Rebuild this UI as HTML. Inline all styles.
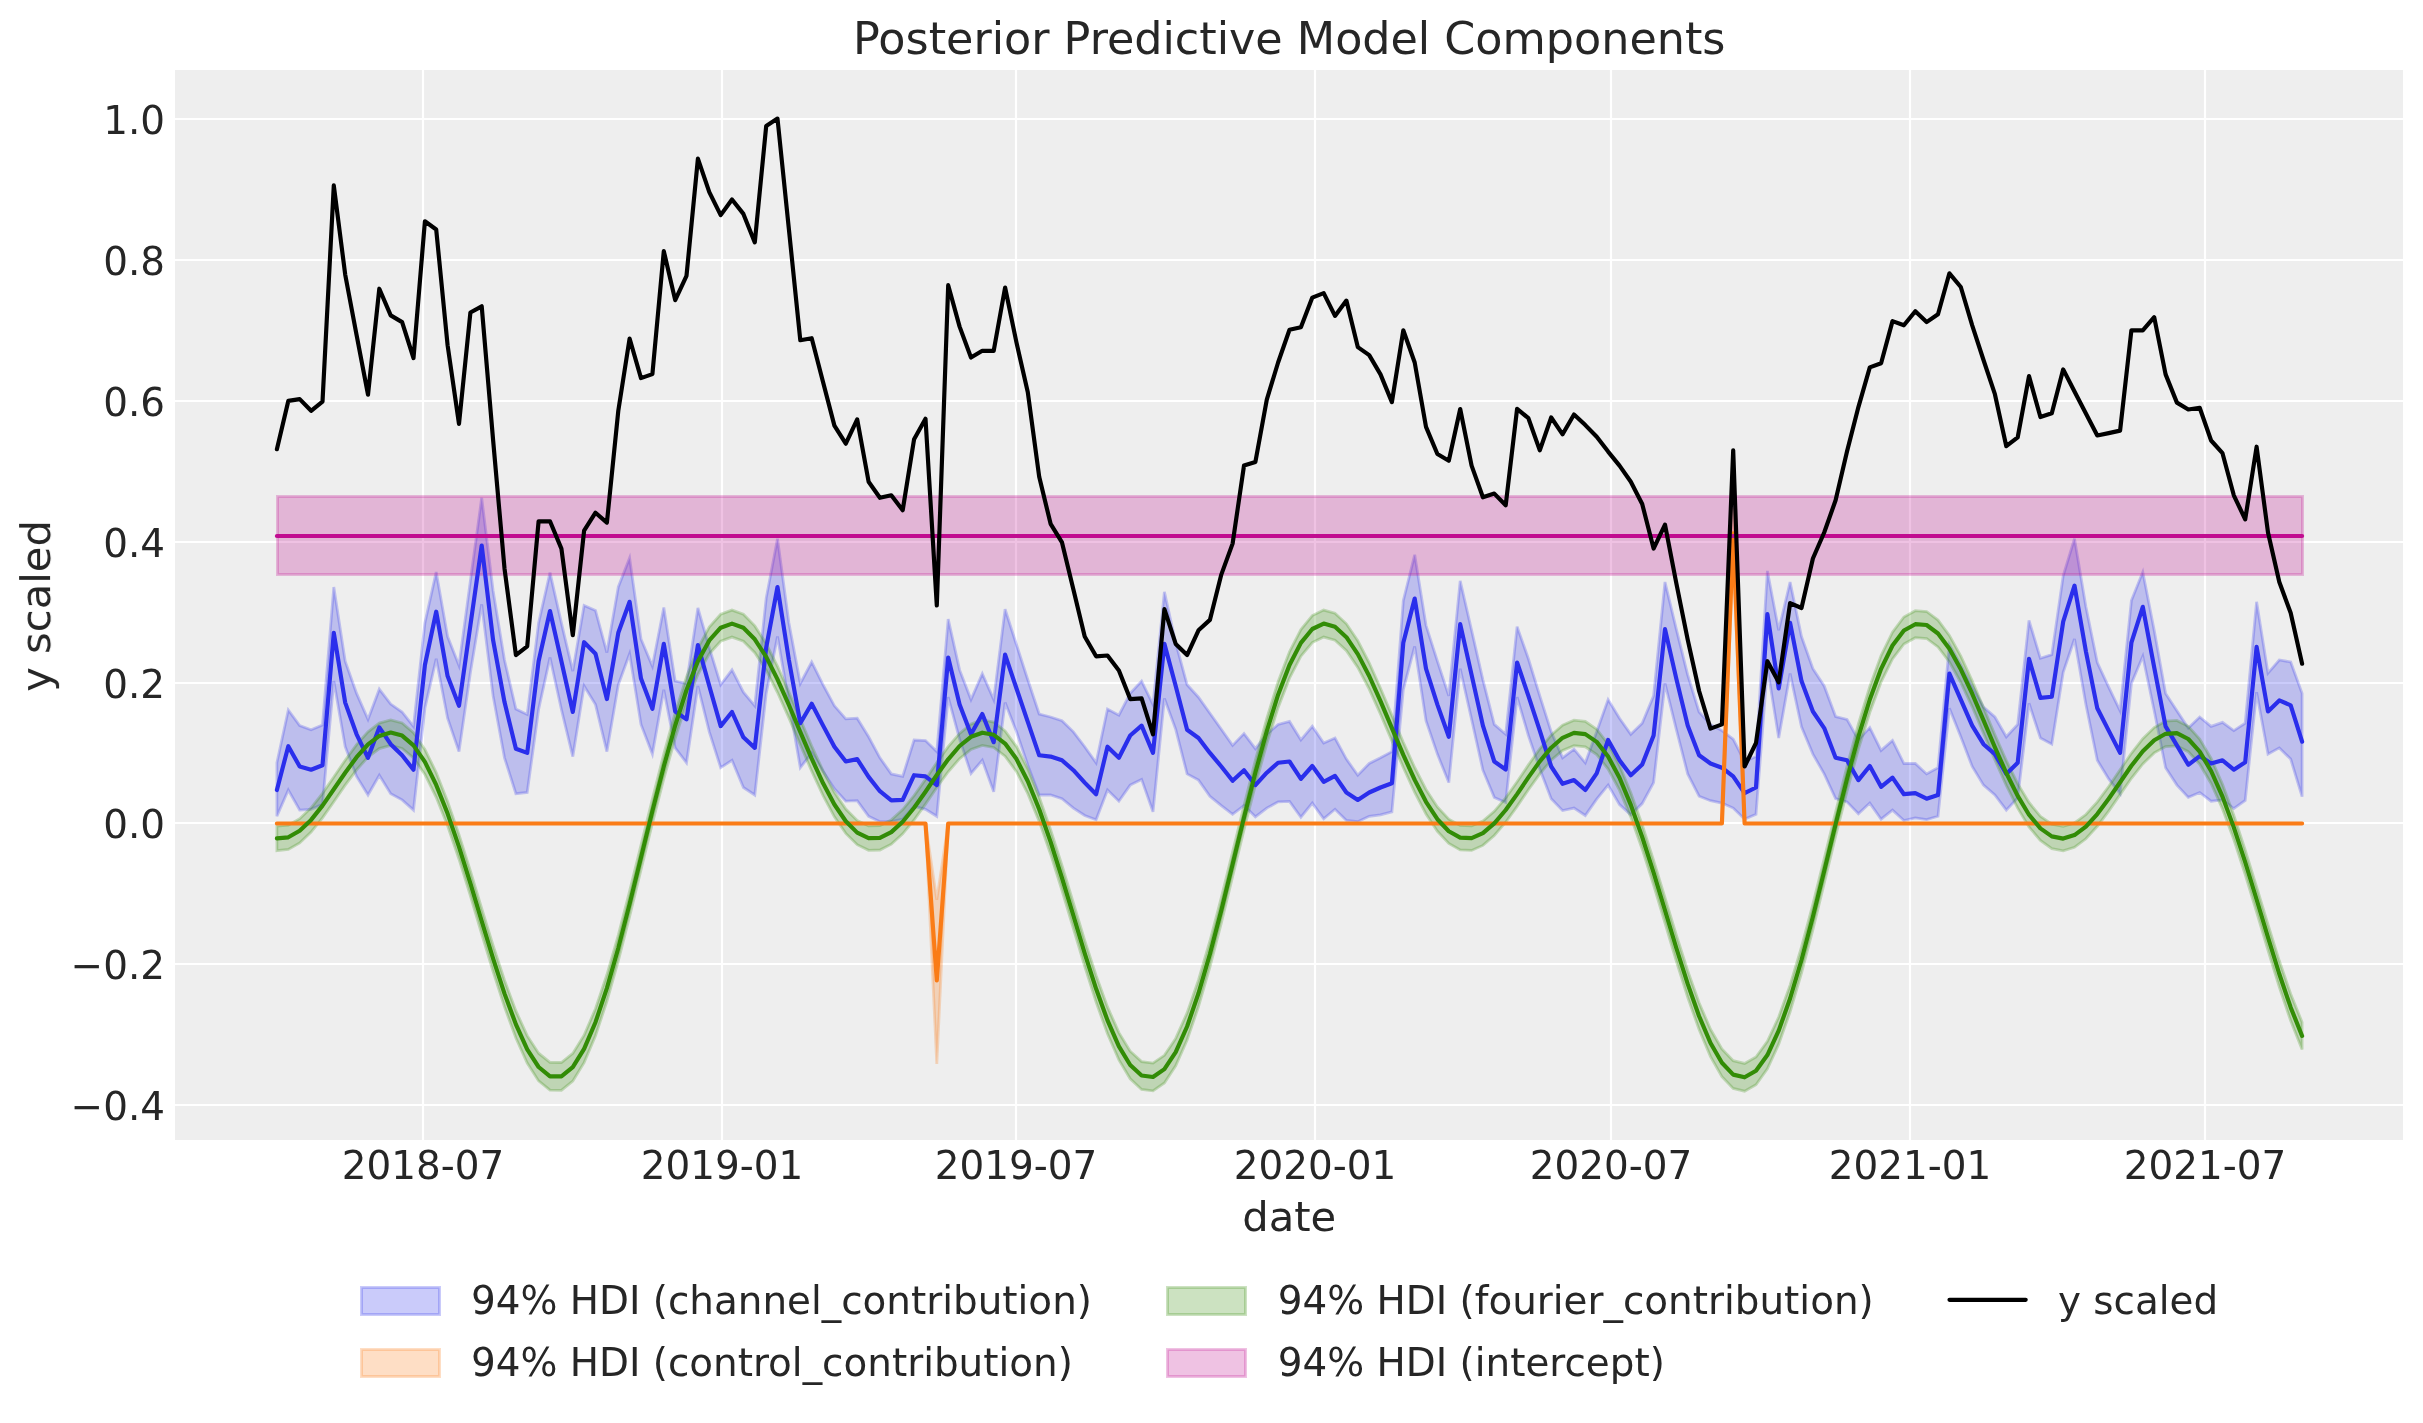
<!DOCTYPE html>
<html lang="en"><head><meta charset="utf-8"><title>Posterior Predictive Model Components</title>
<style>html,body{margin:0;padding:0;background:#fff}body{width:2423px;height:1423px;overflow:hidden}svg{display:block}</style>
</head><body>
<svg width="2423" height="1423" viewBox="0 0 2423 1423">
<rect x="0" y="0" width="2423" height="1423" fill="#ffffff"/>
<rect x="175.0" y="70.0" width="2228.0" height="1070.0" fill="#eeeeee"/>
<defs><clipPath id="c"><rect x="175.0" y="70.0" width="2228.0" height="1070.0"/></clipPath></defs>
<g stroke="#ffffff" stroke-width="2.2" clip-path="url(#c)">
<line x1="423" y1="70.0" x2="423" y2="1140.0"/>
<line x1="722" y1="70.0" x2="722" y2="1140.0"/>
<line x1="1016" y1="70.0" x2="1016" y2="1140.0"/>
<line x1="1315" y1="70.0" x2="1315" y2="1140.0"/>
<line x1="1611" y1="70.0" x2="1611" y2="1140.0"/>
<line x1="1910" y1="70.0" x2="1910" y2="1140.0"/>
<line x1="2205" y1="70.0" x2="2205" y2="1140.0"/>
<line x1="175.0" y1="119" x2="2403.0" y2="119"/>
<line x1="175.0" y1="260" x2="2403.0" y2="260"/>
<line x1="175.0" y1="401" x2="2403.0" y2="401"/>
<line x1="175.0" y1="542" x2="2403.0" y2="542"/>
<line x1="175.0" y1="683" x2="2403.0" y2="683"/>
<line x1="175.0" y1="823" x2="2403.0" y2="823"/>
<line x1="175.0" y1="964" x2="2403.0" y2="964"/>
<line x1="175.0" y1="1105" x2="2403.0" y2="1105"/>
</g>
<g clip-path="url(#c)" stroke-linejoin="miter" stroke-width="2.78">
<polygon points="276.9,762.8 288.3,710.0 299.7,725.6 311.1,729.8 322.5,725.1 333.8,587.0 345.2,661.2 356.6,693.4 368.0,719.4 379.3,689.2 390.7,704.1 402.1,712.0 413.5,726.4 424.9,622.9 436.2,572.1 447.6,636.5 459.0,665.5 470.4,580.8 481.7,497.8 493.1,590.7 504.5,660.0 515.9,709.0 527.2,714.5 538.6,622.9 550.0,572.6 561.4,622.9 572.8,671.1 584.1,605.5 595.5,610.5 606.9,652.6 618.3,587.0 629.6,558.0 641.0,639.0 652.4,666.2 663.8,607.5 675.2,681.1 686.5,683.5 697.9,608.0 709.3,647.6 720.7,684.8 732.0,669.9 743.4,692.2 754.8,705.8 766.2,598.1 777.5,538.7 788.9,622.9 800.3,683.5 811.7,662.0 823.1,684.8 834.4,705.8 845.8,718.9 857.2,718.2 868.6,736.8 879.9,757.8 891.3,773.9 902.7,776.4 914.1,740.0 925.5,740.5 936.8,751.6 948.2,619.1 959.6,669.9 971.0,699.6 982.3,673.6 993.7,699.6 1005.1,609.2 1016.5,644.7 1027.8,679.8 1039.2,714.0 1050.6,717.0 1062.0,720.7 1073.4,731.8 1084.7,746.7 1096.1,762.8 1107.5,709.0 1118.9,715.2 1130.2,693.4 1141.6,681.1 1153.0,704.6 1164.4,591.9 1175.7,642.7 1187.1,684.8 1198.5,697.2 1209.9,713.2 1221.3,729.3 1232.6,745.4 1244.0,733.6 1255.4,748.7 1266.8,734.3 1278.1,724.4 1289.5,721.4 1300.9,740.0 1312.3,726.4 1323.7,743.0 1335.0,738.0 1346.4,759.1 1357.8,775.2 1369.2,763.5 1380.5,757.8 1391.9,751.6 1403.3,600.6 1414.7,554.8 1426.0,625.3 1437.4,661.2 1448.8,695.9 1460.2,580.8 1471.6,630.3 1482.9,679.8 1494.3,724.4 1505.7,734.3 1517.1,626.6 1528.4,658.8 1539.8,695.9 1551.2,731.8 1562.6,757.8 1574.0,749.2 1585.3,762.8 1596.7,731.8 1608.1,699.6 1619.5,718.2 1630.8,734.3 1642.2,723.2 1653.6,695.9 1665.0,582.0 1676.3,629.1 1687.7,674.9 1699.1,712.0 1710.5,724.4 1721.9,730.6 1733.2,739.2 1744.6,761.5 1756.0,756.6 1767.4,570.9 1778.7,630.3 1790.1,582.0 1801.5,636.5 1812.9,668.7 1824.2,686.0 1835.6,716.5 1847.0,719.4 1858.4,740.0 1869.8,727.6 1881.1,750.4 1892.5,740.5 1903.9,763.5 1915.3,763.5 1926.6,773.9 1938.0,767.7 1949.4,644.7 1960.8,665.0 1972.2,686.0 1983.5,707.1 1994.9,717.0 2006.3,736.8 2017.7,724.4 2029.0,620.4 2040.4,658.3 2051.8,654.6 2063.2,575.8 2074.5,538.7 2085.9,606.8 2097.3,662.5 2108.7,687.2 2120.1,710.8 2131.4,600.6 2142.8,572.1 2154.2,630.3 2165.6,693.4 2176.9,710.8 2188.3,728.1 2199.7,717.0 2211.1,726.4 2222.5,722.4 2233.8,730.6 2245.2,723.2 2256.6,601.8 2268.0,673.1 2279.3,660.0 2290.7,662.0 2302.1,693.4 2302.1,796.7 2290.7,759.1 2279.3,747.9 2268.0,754.1 2256.6,692.2 2245.2,800.4 2233.8,808.6 2222.5,799.9 2211.1,801.2 2199.7,792.5 2188.3,797.4 2176.9,785.1 2165.6,767.7 2154.2,710.8 2142.8,656.3 2131.4,683.5 2120.1,793.7 2108.7,778.9 2097.3,760.3 2085.9,704.6 2074.5,639.0 2063.2,672.4 2051.8,744.2 2040.4,738.0 2029.0,703.3 2017.7,797.9 2006.3,810.1 1994.9,795.0 1983.5,785.1 1972.2,766.5 1960.8,736.8 1949.4,708.3 1938.0,816.3 1926.6,819.7 1915.3,818.0 1903.9,820.5 1892.5,810.1 1881.1,819.2 1869.8,803.1 1858.4,813.8 1847.0,801.9 1835.6,798.7 1824.2,773.9 1812.9,754.1 1801.5,726.9 1790.1,673.6 1778.7,738.0 1767.4,667.4 1756.0,814.3 1744.6,819.2 1733.2,808.1 1721.9,803.1 1710.5,800.7 1699.1,796.2 1687.7,773.9 1676.3,729.3 1665.0,683.5 1653.6,782.6 1642.2,803.6 1630.8,814.8 1619.5,804.6 1608.1,785.1 1596.7,799.2 1585.3,815.5 1574.0,808.1 1562.6,810.6 1551.2,798.7 1539.8,769.0 1528.4,735.5 1517.1,697.2 1505.7,802.4 1494.3,797.4 1482.9,770.2 1471.6,719.4 1460.2,668.7 1448.8,782.6 1437.4,754.1 1426.0,720.7 1414.7,646.4 1403.3,689.7 1391.9,811.8 1380.5,814.8 1369.2,816.3 1357.8,821.7 1346.4,820.5 1335.0,809.3 1323.7,818.7 1312.3,803.1 1300.9,817.2 1289.5,801.4 1278.1,801.9 1266.8,808.1 1255.4,816.8 1244.0,805.6 1232.6,814.3 1221.3,805.6 1209.9,796.2 1198.5,780.1 1187.1,773.9 1175.7,729.3 1164.4,698.4 1153.0,811.8 1141.6,779.4 1130.2,785.1 1118.9,801.2 1107.5,790.0 1096.1,819.7 1084.7,815.5 1073.4,808.1 1062.0,798.7 1050.6,795.0 1039.2,795.0 1027.8,765.2 1016.5,731.8 1005.1,702.6 993.7,791.7 982.3,760.3 971.0,773.4 959.6,739.2 948.2,697.2 936.8,816.3 925.5,809.3 914.1,806.4 902.7,819.2 891.3,821.7 879.9,821.7 868.6,816.3 857.2,800.7 845.8,801.2 834.4,788.8 823.1,771.4 811.7,752.9 800.3,767.7 788.9,702.1 777.5,636.5 766.2,693.4 754.8,795.0 743.4,787.5 732.0,760.3 720.7,767.7 709.3,731.8 697.9,686.0 686.5,762.8 675.2,747.9 663.8,689.7 652.4,754.1 641.0,724.4 629.6,653.8 618.3,684.8 606.9,751.6 595.5,704.6 584.1,686.0 572.8,756.6 561.4,709.5 550.0,657.5 538.6,709.5 527.2,792.5 515.9,793.7 504.5,757.8 493.1,695.9 481.7,604.3 470.4,672.4 459.0,751.6 447.6,718.2 436.2,658.8 424.9,708.3 413.5,810.1 402.1,799.9 390.7,793.7 379.3,775.2 368.0,795.0 356.6,776.4 345.2,746.7 333.8,681.1 322.5,804.4 311.1,809.3 299.7,810.1 288.3,790.0 276.9,816.3" fill="#2a2eec" fill-opacity="0.25" stroke="#2a2eec" stroke-opacity="0.25"/>
<polygon points="276.9,823.5 288.3,823.5 299.7,823.5 311.1,823.5 322.5,823.5 333.8,823.5 345.2,823.5 356.6,823.5 368.0,823.5 379.3,823.5 390.7,823.5 402.1,823.5 413.5,823.5 424.9,823.5 436.2,823.5 447.6,823.5 459.0,823.5 470.4,823.5 481.7,823.5 493.1,823.5 504.5,823.5 515.9,823.5 527.2,823.5 538.6,823.5 550.0,823.5 561.4,823.5 572.8,823.5 584.1,823.5 595.5,823.5 606.9,823.5 618.3,823.5 629.6,823.5 641.0,823.5 652.4,823.5 663.8,823.5 675.2,823.5 686.5,823.5 697.9,823.5 709.3,823.5 720.7,823.5 732.0,823.5 743.4,823.5 754.8,823.5 766.2,823.5 777.5,823.5 788.9,823.5 800.3,823.5 811.7,823.5 823.1,823.5 834.4,823.5 845.8,823.5 857.2,823.5 868.6,823.5 879.9,823.5 891.3,823.5 902.7,823.5 914.1,823.5 925.5,823.5 936.8,899.8 948.2,823.5 959.6,823.5 971.0,823.5 982.3,823.5 993.7,823.5 1005.1,823.5 1016.5,823.5 1027.8,823.5 1039.2,823.5 1050.6,823.5 1062.0,823.5 1073.4,823.5 1084.7,823.5 1096.1,823.5 1107.5,823.5 1118.9,823.5 1130.2,823.5 1141.6,823.5 1153.0,823.5 1164.4,823.5 1175.7,823.5 1187.1,823.5 1198.5,823.5 1209.9,823.5 1221.3,823.5 1232.6,823.5 1244.0,823.5 1255.4,823.5 1266.8,823.5 1278.1,823.5 1289.5,823.5 1300.9,823.5 1312.3,823.5 1323.7,823.5 1335.0,823.5 1346.4,823.5 1357.8,823.5 1369.2,823.5 1380.5,823.5 1391.9,823.5 1403.3,823.5 1414.7,823.5 1426.0,823.5 1437.4,823.5 1448.8,823.5 1460.2,823.5 1471.6,823.5 1482.9,823.5 1494.3,823.5 1505.7,823.5 1517.1,823.5 1528.4,823.5 1539.8,823.5 1551.2,823.5 1562.6,823.5 1574.0,823.5 1585.3,823.5 1596.7,823.5 1608.1,823.5 1619.5,823.5 1630.8,823.5 1642.2,823.5 1653.6,823.5 1665.0,823.5 1676.3,823.5 1687.7,823.5 1699.1,823.5 1710.5,823.5 1721.9,823.5 1733.2,508.0 1744.6,823.5 1756.0,823.5 1767.4,823.5 1778.7,823.5 1790.1,823.5 1801.5,823.5 1812.9,823.5 1824.2,823.5 1835.6,823.5 1847.0,823.5 1858.4,823.5 1869.8,823.5 1881.1,823.5 1892.5,823.5 1903.9,823.5 1915.3,823.5 1926.6,823.5 1938.0,823.5 1949.4,823.5 1960.8,823.5 1972.2,823.5 1983.5,823.5 1994.9,823.5 2006.3,823.5 2017.7,823.5 2029.0,823.5 2040.4,823.5 2051.8,823.5 2063.2,823.5 2074.5,823.5 2085.9,823.5 2097.3,823.5 2108.7,823.5 2120.1,823.5 2131.4,823.5 2142.8,823.5 2154.2,823.5 2165.6,823.5 2176.9,823.5 2188.3,823.5 2199.7,823.5 2211.1,823.5 2222.5,823.5 2233.8,823.5 2245.2,823.5 2256.6,823.5 2268.0,823.5 2279.3,823.5 2290.7,823.5 2302.1,823.5 2302.1,823.5 2290.7,823.5 2279.3,823.5 2268.0,823.5 2256.6,823.5 2245.2,823.5 2233.8,823.5 2222.5,823.5 2211.1,823.5 2199.7,823.5 2188.3,823.5 2176.9,823.5 2165.6,823.5 2154.2,823.5 2142.8,823.5 2131.4,823.5 2120.1,823.5 2108.7,823.5 2097.3,823.5 2085.9,823.5 2074.5,823.5 2063.2,823.5 2051.8,823.5 2040.4,823.5 2029.0,823.5 2017.7,823.5 2006.3,823.5 1994.9,823.5 1983.5,823.5 1972.2,823.5 1960.8,823.5 1949.4,823.5 1938.0,823.5 1926.6,823.5 1915.3,823.5 1903.9,823.5 1892.5,823.5 1881.1,823.5 1869.8,823.5 1858.4,823.5 1847.0,823.5 1835.6,823.5 1824.2,823.5 1812.9,823.5 1801.5,823.5 1790.1,823.5 1778.7,823.5 1767.4,823.5 1756.0,823.5 1744.6,823.5 1733.2,561.0 1721.9,823.5 1710.5,823.5 1699.1,823.5 1687.7,823.5 1676.3,823.5 1665.0,823.5 1653.6,823.5 1642.2,823.5 1630.8,823.5 1619.5,823.5 1608.1,823.5 1596.7,823.5 1585.3,823.5 1574.0,823.5 1562.6,823.5 1551.2,823.5 1539.8,823.5 1528.4,823.5 1517.1,823.5 1505.7,823.5 1494.3,823.5 1482.9,823.5 1471.6,823.5 1460.2,823.5 1448.8,823.5 1437.4,823.5 1426.0,823.5 1414.7,823.5 1403.3,823.5 1391.9,823.5 1380.5,823.5 1369.2,823.5 1357.8,823.5 1346.4,823.5 1335.0,823.5 1323.7,823.5 1312.3,823.5 1300.9,823.5 1289.5,823.5 1278.1,823.5 1266.8,823.5 1255.4,823.5 1244.0,823.5 1232.6,823.5 1221.3,823.5 1209.9,823.5 1198.5,823.5 1187.1,823.5 1175.7,823.5 1164.4,823.5 1153.0,823.5 1141.6,823.5 1130.2,823.5 1118.9,823.5 1107.5,823.5 1096.1,823.5 1084.7,823.5 1073.4,823.5 1062.0,823.5 1050.6,823.5 1039.2,823.5 1027.8,823.5 1016.5,823.5 1005.1,823.5 993.7,823.5 982.3,823.5 971.0,823.5 959.6,823.5 948.2,823.5 936.8,1064.0 925.5,823.5 914.1,823.5 902.7,823.5 891.3,823.5 879.9,823.5 868.6,823.5 857.2,823.5 845.8,823.5 834.4,823.5 823.1,823.5 811.7,823.5 800.3,823.5 788.9,823.5 777.5,823.5 766.2,823.5 754.8,823.5 743.4,823.5 732.0,823.5 720.7,823.5 709.3,823.5 697.9,823.5 686.5,823.5 675.2,823.5 663.8,823.5 652.4,823.5 641.0,823.5 629.6,823.5 618.3,823.5 606.9,823.5 595.5,823.5 584.1,823.5 572.8,823.5 561.4,823.5 550.0,823.5 538.6,823.5 527.2,823.5 515.9,823.5 504.5,823.5 493.1,823.5 481.7,823.5 470.4,823.5 459.0,823.5 447.6,823.5 436.2,823.5 424.9,823.5 413.5,823.5 402.1,823.5 390.7,823.5 379.3,823.5 368.0,823.5 356.6,823.5 345.2,823.5 333.8,823.5 322.5,823.5 311.1,823.5 299.7,823.5 288.3,823.5 276.9,823.5" fill="#fa7c17" fill-opacity="0.25" stroke="#fa7c17" stroke-opacity="0.25"/>
<polygon points="276.9,826.2 288.3,825.1 299.7,818.7 311.1,807.8 322.5,793.4 333.8,777.0 345.2,760.2 356.6,744.6 368.0,731.8 379.3,723.1 390.7,719.9 402.1,722.9 413.5,732.7 424.9,749.4 436.2,772.5 447.6,801.4 459.0,834.6 470.4,870.8 481.7,908.4 493.1,945.5 504.5,980.3 515.9,1010.9 527.2,1035.7 538.6,1053.2 550.0,1062.4 561.4,1062.5 572.8,1053.4 584.1,1035.2 595.5,1008.7 606.9,974.8 618.3,935.1 629.6,891.2 641.0,845.2 652.4,798.9 663.8,753.9 675.2,712.7 686.5,677.0 697.9,648.1 709.3,627.0 720.7,614.3 732.0,610.1 743.4,614.3 754.8,625.9 766.2,643.7 777.5,666.3 788.9,692.0 800.3,719.2 811.7,746.0 823.1,770.9 834.4,792.3 845.8,809.1 857.2,820.4 868.6,825.9 879.9,825.6 891.3,819.9 902.7,809.6 914.1,795.6 925.5,779.4 936.8,762.6 948.2,746.7 959.6,733.4 971.0,724.1 982.3,720.0 993.7,722.1 1005.1,730.9 1016.5,746.6 1027.8,768.8 1039.2,797.0 1050.6,829.7 1062.0,865.5 1073.4,903.0 1084.7,940.3 1096.1,975.5 1107.5,1006.9 1118.9,1032.6 1130.2,1051.2 1141.6,1061.6 1153.0,1063.1 1164.4,1055.3 1175.7,1038.4 1187.1,1012.9 1198.5,980.0 1209.9,941.0 1221.3,897.7 1232.6,851.9 1244.0,805.5 1255.4,760.1 1266.8,718.3 1278.1,681.7 1289.5,651.7 1300.9,629.5 1312.3,615.6 1323.7,610.1 1335.0,613.2 1346.4,623.8 1357.8,640.8 1369.2,662.8 1380.5,688.2 1391.9,715.3 1403.3,742.3 1414.7,767.5 1426.0,789.5 1437.4,807.0 1448.8,819.1 1460.2,825.4 1471.6,825.9 1482.9,821.0 1494.3,811.3 1505.7,797.8 1517.1,781.8 1528.4,764.9 1539.8,748.8 1551.2,735.1 1562.6,725.1 1574.0,720.2 1585.3,721.4 1596.7,729.2 1608.1,743.9 1619.5,765.3 1630.8,792.7 1642.2,824.8 1653.6,860.3 1665.0,897.6 1676.3,935.0 1687.7,970.7 1699.1,1002.7 1710.5,1029.3 1721.9,1049.0 1733.2,1060.7 1744.6,1063.4 1756.0,1057.0 1767.4,1041.3 1778.7,1017.0 1790.1,985.1 1801.5,946.9 1812.9,904.1 1824.2,858.5 1835.6,812.1 1847.0,766.4 1858.4,724.0 1869.8,686.5 1881.1,655.6 1892.5,632.2 1903.9,617.0 1915.3,610.7 1926.6,611.5 1938.0,620.1 1949.4,635.4 1960.8,656.1 1972.2,680.7 1983.5,707.5 1994.9,734.7 2006.3,760.6 2017.7,783.6 2029.0,802.5 2040.4,816.3 2051.8,824.2 2063.2,826.4 2074.5,822.9 2085.9,814.5 2097.3,801.9 2108.7,786.5 2120.1,769.8 2131.4,753.3 2142.8,738.7 2154.2,727.5 2165.6,721.0 2176.9,720.4 2188.3,726.3 2199.7,739.0 2211.1,758.5 2222.5,784.3 2233.8,815.3 2245.2,849.9 2256.6,886.8 2268.0,924.4 2279.3,960.8 2290.7,994.0 2302.1,1022.3 2302.1,1049.5 2290.7,1020.8 2279.3,987.1 2268.0,950.3 2256.6,912.1 2245.2,874.6 2233.8,839.6 2222.5,808.9 2211.1,783.5 2199.7,764.2 2188.3,751.7 2176.9,745.9 2165.6,746.5 2154.2,752.9 2142.8,763.9 2131.4,778.3 2120.1,794.6 2108.7,811.1 2097.3,826.3 2085.9,838.8 2074.5,847.3 2063.2,850.8 2051.8,848.6 2040.4,840.5 2029.0,826.9 2017.7,808.2 2006.3,785.5 1994.9,760.0 1983.5,733.2 1972.2,706.8 1960.8,682.5 1949.4,662.0 1938.0,646.9 1926.6,638.5 1915.3,637.7 1903.9,644.0 1892.5,658.9 1881.1,682.0 1869.8,712.5 1858.4,749.4 1847.0,791.3 1835.6,836.4 1824.2,883.4 1812.9,929.6 1801.5,973.1 1790.1,1011.8 1778.7,1044.2 1767.4,1068.8 1756.0,1084.7 1744.6,1091.2 1733.2,1088.4 1721.9,1076.6 1710.5,1056.6 1699.1,1029.6 1687.7,997.2 1676.3,961.0 1665.0,923.0 1653.6,885.2 1642.2,849.2 1630.8,817.1 1619.5,790.1 1608.1,769.1 1596.7,754.6 1585.3,746.8 1574.0,745.7 1562.6,750.5 1551.2,760.3 1539.8,773.9 1528.4,789.8 1517.1,806.4 1505.7,822.2 1494.3,835.5 1482.9,845.4 1471.6,850.4 1460.2,849.9 1448.8,843.5 1437.4,831.3 1426.0,814.0 1414.7,792.3 1403.3,767.5 1391.9,740.9 1380.5,714.2 1369.2,689.1 1357.8,667.4 1346.4,650.6 1335.0,640.2 1323.7,637.1 1312.3,642.5 1300.9,656.2 1289.5,678.2 1278.1,707.7 1266.8,743.8 1255.4,785.1 1244.0,829.8 1232.6,876.7 1221.3,923.1 1209.9,967.1 1198.5,1006.6 1187.1,1040.0 1175.7,1065.8 1164.4,1083.0 1153.0,1090.9 1141.6,1089.4 1130.2,1078.8 1118.9,1059.9 1107.5,1033.8 1096.1,1002.1 1084.7,966.3 1073.4,928.5 1062.0,890.5 1050.6,854.2 1039.2,821.4 1027.8,793.7 1016.5,771.7 1005.1,756.2 993.7,747.5 982.3,745.5 971.0,749.5 959.6,758.7 948.2,771.8 936.8,787.5 925.5,804.1 914.1,820.0 902.7,833.8 891.3,844.2 879.9,850.0 868.6,850.3 857.2,844.7 845.8,833.4 834.4,816.8 823.1,795.7 811.7,771.2 800.3,744.7 788.9,717.9 777.5,692.5 766.2,670.2 754.8,652.7 743.4,641.2 732.0,637.1 720.7,641.2 709.3,653.8 697.9,674.6 686.5,703.1 675.2,738.3 663.8,778.9 652.4,823.3 641.0,869.9 629.6,916.6 618.3,961.0 606.9,1001.3 595.5,1035.7 584.1,1062.6 572.8,1081.1 561.4,1090.3 550.0,1090.2 538.6,1080.9 527.2,1063.1 515.9,1038.0 504.5,1006.9 493.1,971.6 481.7,934.0 470.4,895.9 459.0,859.2 447.6,825.8 436.2,797.3 424.9,774.4 413.5,758.0 402.1,748.4 390.7,745.4 379.3,748.6 368.0,757.1 356.6,769.8 345.2,785.1 333.8,801.7 322.5,817.8 311.1,832.0 299.7,843.0 288.3,849.5 276.9,850.6" fill="#328c06" fill-opacity="0.25" stroke="#328c06" stroke-opacity="0.25"/>
<rect x="277.5" y="496.5" width="2025.0" height="78.0" fill="#c10c90" fill-opacity="0.25" stroke="#c10c90" stroke-opacity="0.25" stroke-width="3"/>
</g>
<g clip-path="url(#c)" fill="none" stroke-width="4.17" stroke-linejoin="round" stroke-linecap="round">
<polyline points="276.9,790.0 288.3,746.2 299.7,766.5 311.1,769.7 322.5,765.2 333.8,632.8 345.2,702.6 356.6,734.3 368.0,757.8 379.3,727.4 390.7,744.2 402.1,755.3 413.5,769.7 424.9,665.0 436.2,611.7 447.6,676.1 459.0,705.8 470.4,625.3 481.7,545.6 493.1,640.2 504.5,702.1 515.9,748.7 527.2,752.9 538.6,661.2 550.0,611.0 561.4,661.2 572.8,712.0 584.1,642.2 595.5,653.8 606.9,699.1 618.3,632.8 629.6,601.8 641.0,678.6 652.4,708.8 663.8,643.9 675.2,711.5 686.5,719.4 697.9,645.1 709.3,686.0 720.7,726.1 732.0,712.0 743.4,737.3 754.8,747.9 766.2,647.6 777.5,587.0 788.9,660.0 800.3,723.2 811.7,703.8 823.1,725.6 834.4,746.7 845.8,761.5 857.2,759.1 868.6,776.9 879.9,791.2 891.3,800.4 902.7,799.9 914.1,775.2 925.5,776.4 936.8,785.1 948.2,657.5 959.6,704.6 971.0,734.3 982.3,714.0 993.7,742.2 1005.1,654.6 1016.5,688.5 1027.8,721.9 1039.2,755.3 1050.6,756.6 1062.0,760.3 1073.4,770.2 1084.7,782.6 1096.1,794.2 1107.5,746.7 1118.9,757.8 1130.2,735.5 1141.6,725.6 1153.0,752.9 1164.4,643.9 1175.7,686.0 1187.1,729.8 1198.5,738.0 1209.9,752.9 1221.3,766.5 1232.6,780.8 1244.0,770.2 1255.4,785.1 1266.8,772.7 1278.1,762.8 1289.5,761.5 1300.9,778.9 1312.3,766.0 1323.7,781.8 1335.0,775.9 1346.4,792.5 1357.8,799.9 1369.2,792.5 1380.5,787.5 1391.9,783.3 1403.3,642.7 1414.7,598.6 1426.0,668.7 1437.4,704.6 1448.8,736.8 1460.2,624.1 1471.6,674.9 1482.9,725.6 1494.3,761.5 1505.7,769.5 1517.1,662.5 1528.4,695.9 1539.8,730.6 1551.2,766.5 1562.6,783.8 1574.0,780.1 1585.3,790.0 1596.7,773.4 1608.1,740.0 1619.5,760.3 1630.8,775.2 1642.2,764.5 1653.6,735.5 1665.0,629.1 1676.3,678.6 1687.7,725.6 1699.1,755.3 1710.5,763.5 1721.9,767.7 1733.2,776.4 1744.6,793.2 1756.0,787.5 1767.4,614.2 1778.7,688.5 1790.1,622.9 1801.5,681.1 1812.9,711.5 1824.2,728.1 1835.6,757.8 1847.0,760.3 1858.4,780.1 1869.8,766.0 1881.1,786.8 1892.5,777.6 1903.9,794.2 1915.3,793.2 1926.6,798.7 1938.0,795.0 1949.4,673.6 1960.8,699.6 1972.2,725.6 1983.5,744.2 1994.9,754.1 2006.3,773.9 2017.7,762.8 2029.0,658.8 2040.4,697.9 2051.8,696.7 2063.2,621.6 2074.5,585.7 2085.9,651.3 2097.3,708.3 2108.7,730.6 2120.1,752.9 2131.4,642.7 2142.8,606.8 2154.2,667.4 2165.6,726.4 2176.9,745.4 2188.3,764.8 2199.7,756.1 2211.1,763.5 2222.5,760.3 2233.8,769.7 2245.2,762.3 2256.6,646.9 2268.0,711.5 2279.3,700.4 2290.7,705.3 2302.1,741.7" stroke="#2a2eec"/>
<polyline points="276.9,823.5 288.3,823.5 299.7,823.5 311.1,823.5 322.5,823.5 333.8,823.5 345.2,823.5 356.6,823.5 368.0,823.5 379.3,823.5 390.7,823.5 402.1,823.5 413.5,823.5 424.9,823.5 436.2,823.5 447.6,823.5 459.0,823.5 470.4,823.5 481.7,823.5 493.1,823.5 504.5,823.5 515.9,823.5 527.2,823.5 538.6,823.5 550.0,823.5 561.4,823.5 572.8,823.5 584.1,823.5 595.5,823.5 606.9,823.5 618.3,823.5 629.6,823.5 641.0,823.5 652.4,823.5 663.8,823.5 675.2,823.5 686.5,823.5 697.9,823.5 709.3,823.5 720.7,823.5 732.0,823.5 743.4,823.5 754.8,823.5 766.2,823.5 777.5,823.5 788.9,823.5 800.3,823.5 811.7,823.5 823.1,823.5 834.4,823.5 845.8,823.5 857.2,823.5 868.6,823.5 879.9,823.5 891.3,823.5 902.7,823.5 914.1,823.5 925.5,823.5 936.8,980.3 948.2,823.5 959.6,823.5 971.0,823.5 982.3,823.5 993.7,823.5 1005.1,823.5 1016.5,823.5 1027.8,823.5 1039.2,823.5 1050.6,823.5 1062.0,823.5 1073.4,823.5 1084.7,823.5 1096.1,823.5 1107.5,823.5 1118.9,823.5 1130.2,823.5 1141.6,823.5 1153.0,823.5 1164.4,823.5 1175.7,823.5 1187.1,823.5 1198.5,823.5 1209.9,823.5 1221.3,823.5 1232.6,823.5 1244.0,823.5 1255.4,823.5 1266.8,823.5 1278.1,823.5 1289.5,823.5 1300.9,823.5 1312.3,823.5 1323.7,823.5 1335.0,823.5 1346.4,823.5 1357.8,823.5 1369.2,823.5 1380.5,823.5 1391.9,823.5 1403.3,823.5 1414.7,823.5 1426.0,823.5 1437.4,823.5 1448.8,823.5 1460.2,823.5 1471.6,823.5 1482.9,823.5 1494.3,823.5 1505.7,823.5 1517.1,823.5 1528.4,823.5 1539.8,823.5 1551.2,823.5 1562.6,823.5 1574.0,823.5 1585.3,823.5 1596.7,823.5 1608.1,823.5 1619.5,823.5 1630.8,823.5 1642.2,823.5 1653.6,823.5 1665.0,823.5 1676.3,823.5 1687.7,823.5 1699.1,823.5 1710.5,823.5 1721.9,823.5 1733.2,533.3 1744.6,823.5 1756.0,823.5 1767.4,823.5 1778.7,823.5 1790.1,823.5 1801.5,823.5 1812.9,823.5 1824.2,823.5 1835.6,823.5 1847.0,823.5 1858.4,823.5 1869.8,823.5 1881.1,823.5 1892.5,823.5 1903.9,823.5 1915.3,823.5 1926.6,823.5 1938.0,823.5 1949.4,823.5 1960.8,823.5 1972.2,823.5 1983.5,823.5 1994.9,823.5 2006.3,823.5 2017.7,823.5 2029.0,823.5 2040.4,823.5 2051.8,823.5 2063.2,823.5 2074.5,823.5 2085.9,823.5 2097.3,823.5 2108.7,823.5 2120.1,823.5 2131.4,823.5 2142.8,823.5 2154.2,823.5 2165.6,823.5 2176.9,823.5 2188.3,823.5 2199.7,823.5 2211.1,823.5 2222.5,823.5 2233.8,823.5 2245.2,823.5 2256.6,823.5 2268.0,823.5 2279.3,823.5 2290.7,823.5 2302.1,823.5" stroke="#fa7c17"/>
<polyline points="276.9,838.4 288.3,837.3 299.7,830.8 311.1,819.9 322.5,805.6 333.8,789.3 345.2,772.7 356.6,757.2 368.0,744.4 379.3,735.9 390.7,732.6 402.1,735.6 413.5,745.4 424.9,761.9 436.2,784.9 447.6,813.6 459.0,846.9 470.4,883.3 481.7,921.2 493.1,958.6 504.5,993.6 515.9,1024.4 527.2,1049.4 538.6,1067.0 550.0,1076.3 561.4,1076.4 572.8,1067.2 584.1,1048.9 595.5,1022.2 606.9,988.1 618.3,948.1 629.6,903.9 641.0,857.6 652.4,811.1 663.8,766.4 675.2,725.5 686.5,690.0 697.9,661.3 709.3,640.4 720.7,627.7 732.0,623.6 743.4,627.8 754.8,639.3 766.2,656.9 777.5,679.4 788.9,705.0 800.3,732.0 811.7,758.6 823.1,783.3 834.4,804.5 845.8,821.2 857.2,832.6 868.6,838.1 879.9,837.8 891.3,832.1 902.7,821.7 914.1,807.8 925.5,791.7 936.8,775.0 948.2,759.3 959.6,746.0 971.0,736.8 982.3,732.7 993.7,734.8 1005.1,743.6 1016.5,759.1 1027.8,781.3 1039.2,809.2 1050.6,841.9 1062.0,878.0 1073.4,915.7 1084.7,953.3 1096.1,988.8 1107.5,1020.4 1118.9,1046.3 1130.2,1065.0 1141.6,1075.5 1153.0,1077.0 1164.4,1069.1 1175.7,1052.1 1187.1,1026.5 1198.5,993.3 1209.9,954.1 1221.3,910.4 1232.6,864.3 1244.0,817.6 1255.4,772.6 1266.8,731.1 1278.1,694.7 1289.5,665.0 1300.9,642.9 1312.3,629.0 1323.7,623.6 1335.0,626.7 1346.4,637.2 1357.8,654.1 1369.2,676.0 1380.5,701.2 1391.9,728.1 1403.3,754.9 1414.7,779.9 1426.0,801.8 1437.4,819.2 1448.8,831.3 1460.2,837.6 1471.6,838.2 1482.9,833.2 1494.3,823.4 1505.7,810.0 1517.1,794.1 1528.4,777.4 1539.8,761.4 1551.2,747.7 1562.6,737.8 1574.0,732.9 1585.3,734.1 1596.7,741.9 1608.1,756.5 1619.5,777.7 1630.8,804.9 1642.2,837.0 1653.6,872.7 1665.0,910.3 1676.3,948.0 1687.7,983.9 1699.1,1016.2 1710.5,1043.0 1721.9,1062.8 1733.2,1074.6 1744.6,1077.3 1756.0,1070.8 1767.4,1055.1 1778.7,1030.6 1790.1,998.5 1801.5,960.0 1812.9,916.8 1824.2,870.9 1835.6,824.3 1847.0,778.9 1858.4,736.7 1869.8,699.5 1881.1,668.8 1892.5,645.5 1903.9,630.5 1915.3,624.2 1926.6,625.0 1938.0,633.5 1949.4,648.7 1960.8,669.3 1972.2,693.7 1983.5,720.3 1994.9,747.3 2006.3,773.0 2017.7,795.9 2029.0,814.7 2040.4,828.4 2051.8,836.4 2063.2,838.6 2074.5,835.1 2085.9,826.6 2097.3,814.1 2108.7,798.8 2120.1,782.2 2131.4,765.8 2142.8,751.3 2154.2,740.2 2165.6,733.8 2176.9,733.1 2188.3,739.0 2199.7,751.6 2211.1,771.0 2222.5,796.6 2233.8,827.4 2245.2,862.2 2256.6,899.5 2268.0,937.4 2279.3,974.0 2290.7,1007.4 2302.1,1035.9" stroke="#328c06"/>
<polyline points="276.9,536.0 288.3,536.0 299.7,536.0 311.1,536.0 322.5,536.0 333.8,536.0 345.2,536.0 356.6,536.0 368.0,536.0 379.3,536.0 390.7,536.0 402.1,536.0 413.5,536.0 424.9,536.0 436.2,536.0 447.6,536.0 459.0,536.0 470.4,536.0 481.7,536.0 493.1,536.0 504.5,536.0 515.9,536.0 527.2,536.0 538.6,536.0 550.0,536.0 561.4,536.0 572.8,536.0 584.1,536.0 595.5,536.0 606.9,536.0 618.3,536.0 629.6,536.0 641.0,536.0 652.4,536.0 663.8,536.0 675.2,536.0 686.5,536.0 697.9,536.0 709.3,536.0 720.7,536.0 732.0,536.0 743.4,536.0 754.8,536.0 766.2,536.0 777.5,536.0 788.9,536.0 800.3,536.0 811.7,536.0 823.1,536.0 834.4,536.0 845.8,536.0 857.2,536.0 868.6,536.0 879.9,536.0 891.3,536.0 902.7,536.0 914.1,536.0 925.5,536.0 936.8,536.0 948.2,536.0 959.6,536.0 971.0,536.0 982.3,536.0 993.7,536.0 1005.1,536.0 1016.5,536.0 1027.8,536.0 1039.2,536.0 1050.6,536.0 1062.0,536.0 1073.4,536.0 1084.7,536.0 1096.1,536.0 1107.5,536.0 1118.9,536.0 1130.2,536.0 1141.6,536.0 1153.0,536.0 1164.4,536.0 1175.7,536.0 1187.1,536.0 1198.5,536.0 1209.9,536.0 1221.3,536.0 1232.6,536.0 1244.0,536.0 1255.4,536.0 1266.8,536.0 1278.1,536.0 1289.5,536.0 1300.9,536.0 1312.3,536.0 1323.7,536.0 1335.0,536.0 1346.4,536.0 1357.8,536.0 1369.2,536.0 1380.5,536.0 1391.9,536.0 1403.3,536.0 1414.7,536.0 1426.0,536.0 1437.4,536.0 1448.8,536.0 1460.2,536.0 1471.6,536.0 1482.9,536.0 1494.3,536.0 1505.7,536.0 1517.1,536.0 1528.4,536.0 1539.8,536.0 1551.2,536.0 1562.6,536.0 1574.0,536.0 1585.3,536.0 1596.7,536.0 1608.1,536.0 1619.5,536.0 1630.8,536.0 1642.2,536.0 1653.6,536.0 1665.0,536.0 1676.3,536.0 1687.7,536.0 1699.1,536.0 1710.5,536.0 1721.9,536.0 1733.2,536.0 1744.6,536.0 1756.0,536.0 1767.4,536.0 1778.7,536.0 1790.1,536.0 1801.5,536.0 1812.9,536.0 1824.2,536.0 1835.6,536.0 1847.0,536.0 1858.4,536.0 1869.8,536.0 1881.1,536.0 1892.5,536.0 1903.9,536.0 1915.3,536.0 1926.6,536.0 1938.0,536.0 1949.4,536.0 1960.8,536.0 1972.2,536.0 1983.5,536.0 1994.9,536.0 2006.3,536.0 2017.7,536.0 2029.0,536.0 2040.4,536.0 2051.8,536.0 2063.2,536.0 2074.5,536.0 2085.9,536.0 2097.3,536.0 2108.7,536.0 2120.1,536.0 2131.4,536.0 2142.8,536.0 2154.2,536.0 2165.6,536.0 2176.9,536.0 2188.3,536.0 2199.7,536.0 2211.1,536.0 2222.5,536.0 2233.8,536.0 2245.2,536.0 2256.6,536.0 2268.0,536.0 2279.3,536.0 2290.7,536.0 2302.1,536.0" stroke="#c10c90"/>
<polyline points="276.9,449.2 288.3,400.9 299.7,399.1 311.1,410.8 322.5,401.6 333.8,185.4 345.2,274.6 356.6,335.2 368.0,394.7 379.3,288.7 390.7,315.4 402.1,322.1 413.5,358.0 424.9,221.3 436.2,229.5 447.6,345.2 459.0,423.9 470.4,312.5 481.7,306.3 493.1,440.0 504.5,568.4 515.9,655.1 527.2,646.4 538.6,521.3 550.0,521.3 561.4,548.6 572.8,635.2 584.1,530.7 595.5,512.7 606.9,522.6 618.3,410.8 629.6,338.5 641.0,378.1 652.4,374.1 663.8,251.1 675.2,300.1 686.5,275.8 697.9,158.7 709.3,192.1 720.7,215.1 732.0,199.5 743.4,213.9 754.8,242.4 766.2,126.0 777.5,118.6 788.9,229.3 800.3,340.2 811.7,338.2 823.1,382.3 834.4,425.6 845.8,443.7 857.2,419.4 868.6,481.7 879.9,497.8 891.3,495.3 902.7,510.2 914.1,439.2 925.5,418.7 936.8,605.5 948.2,285.2 959.6,326.6 971.0,357.5 982.3,350.8 993.7,350.8 1005.1,287.5 1016.5,342.7 1027.8,392.2 1039.2,476.8 1050.6,523.8 1062.0,542.4 1073.4,589.4 1084.7,636.5 1096.1,656.3 1107.5,655.5 1118.9,670.4 1130.2,699.1 1141.6,698.4 1153.0,734.3 1164.4,609.2 1175.7,643.9 1187.1,655.1 1198.5,630.3 1209.9,619.9 1221.3,574.6 1232.6,543.6 1244.0,465.6 1255.4,461.9 1266.8,399.6 1278.1,362.5 1289.5,329.8 1300.9,327.3 1312.3,297.6 1323.7,293.1 1335.0,315.9 1346.4,300.6 1357.8,347.1 1369.2,355.1 1380.5,374.4 1391.9,402.1 1403.3,330.3 1414.7,362.5 1426.0,426.9 1437.4,454.0 1448.8,460.7 1460.2,409.0 1471.6,465.6 1482.9,497.3 1494.3,493.6 1505.7,505.2 1517.1,408.8 1528.4,418.2 1539.8,450.4 1551.2,417.5 1562.6,434.3 1574.0,414.5 1585.3,425.1 1596.7,436.8 1608.1,451.6 1619.5,465.6 1630.8,481.7 1642.2,504.0 1653.6,548.6 1665.0,524.6 1676.3,583.2 1687.7,639.7 1699.1,691.0 1710.5,728.6 1721.9,724.4 1733.2,450.4 1744.6,766.5 1756.0,743.0 1767.4,661.2 1778.7,682.3 1790.1,603.1 1801.5,608.0 1812.9,558.5 1824.2,532.5 1835.6,500.3 1847.0,451.6 1858.4,407.1 1869.8,367.4 1881.1,363.2 1892.5,321.1 1903.9,325.3 1915.3,311.2 1926.6,322.1 1938.0,314.2 1949.4,273.3 1960.8,287.0 1972.2,325.3 1983.5,360.0 1994.9,394.2 2006.3,446.2 2017.7,437.3 2029.0,376.1 2040.4,417.0 2051.8,413.2 2063.2,369.4 2074.5,391.5 2085.9,413.5 2097.3,435.5 2108.7,433.1 2120.1,430.6 2131.4,330.3 2142.8,330.3 2154.2,317.2 2165.6,374.4 2176.9,402.6 2188.3,409.5 2199.7,407.8 2211.1,440.5 2222.5,453.2 2233.8,495.3 2245.2,519.4 2256.6,446.7 2268.0,532.5 2279.3,582.0 2290.7,613.0 2302.1,663.7" stroke="#000000"/>
</g>
<g style="will-change:transform" font-family="'DejaVu Sans','Liberation Sans',sans-serif" fill="#262626">
<text x="1289.3" y="54.2" font-size="44.44" text-anchor="middle">Posterior Predictive Model Components</text>
<text x="423" y="1179.2" font-size="38.89" text-anchor="middle">2018-07</text>
<text x="722" y="1179.2" font-size="38.89" text-anchor="middle">2019-01</text>
<text x="1016" y="1179.2" font-size="38.89" text-anchor="middle">2019-07</text>
<text x="1315" y="1179.2" font-size="38.89" text-anchor="middle">2020-01</text>
<text x="1611" y="1179.2" font-size="38.89" text-anchor="middle">2020-07</text>
<text x="1910" y="1179.2" font-size="38.89" text-anchor="middle">2021-01</text>
<text x="2205" y="1179.2" font-size="38.89" text-anchor="middle">2021-07</text>
<text x="165" y="133.6" font-size="38.89" text-anchor="end">1.0</text>
<text x="165" y="274.6" font-size="38.89" text-anchor="end">0.8</text>
<text x="165" y="415.6" font-size="38.89" text-anchor="end">0.6</text>
<text x="165" y="556.6" font-size="38.89" text-anchor="end">0.4</text>
<text x="165" y="697.6" font-size="38.89" text-anchor="end">0.2</text>
<text x="165" y="837.6" font-size="38.89" text-anchor="end">0.0</text>
<text x="165" y="978.6" font-size="38.89" text-anchor="end">−0.2</text>
<text x="165" y="1119.6" font-size="38.89" text-anchor="end">−0.4</text>
<text x="1289.2" y="1230.7" font-size="41.67" text-anchor="middle">date</text>
<text transform="translate(50.1,606) rotate(-90)" font-size="41.67" text-anchor="middle">y scaled</text>
<rect x="361.5" y="1287.5" width="78" height="27" fill="#2a2eec" fill-opacity="0.25" stroke="#2a2eec" stroke-opacity="0.25" stroke-width="3"/>
<rect x="361.5" y="1349.5" width="78" height="27" fill="#fa7c17" fill-opacity="0.25" stroke="#fa7c17" stroke-opacity="0.25" stroke-width="3"/>
<rect x="1167.5" y="1287.5" width="78" height="27" fill="#328c06" fill-opacity="0.25" stroke="#328c06" stroke-opacity="0.25" stroke-width="3"/>
<rect x="1167.5" y="1349.5" width="78" height="27" fill="#c10c90" fill-opacity="0.25" stroke="#c10c90" stroke-opacity="0.25" stroke-width="3"/>
<line x1="1949.5" y1="1299.8" x2="2025.7" y2="1299.8" stroke="#000" stroke-width="4.17" stroke-linecap="round"/>
<text x="471" y="1313.6" font-size="38.89">94% HDI (channel_contribution)</text>
<text x="471" y="1375.6" font-size="38.89">94% HDI (control_contribution)</text>
<text x="1277.8" y="1313.6" font-size="38.89">94% HDI (fourier_contribution)</text>
<text x="1277.8" y="1375.6" font-size="38.89">94% HDI (intercept)</text>
<text x="2058" y="1313.6" font-size="38.89">y scaled</text>
</g>
</svg>
</body></html>
